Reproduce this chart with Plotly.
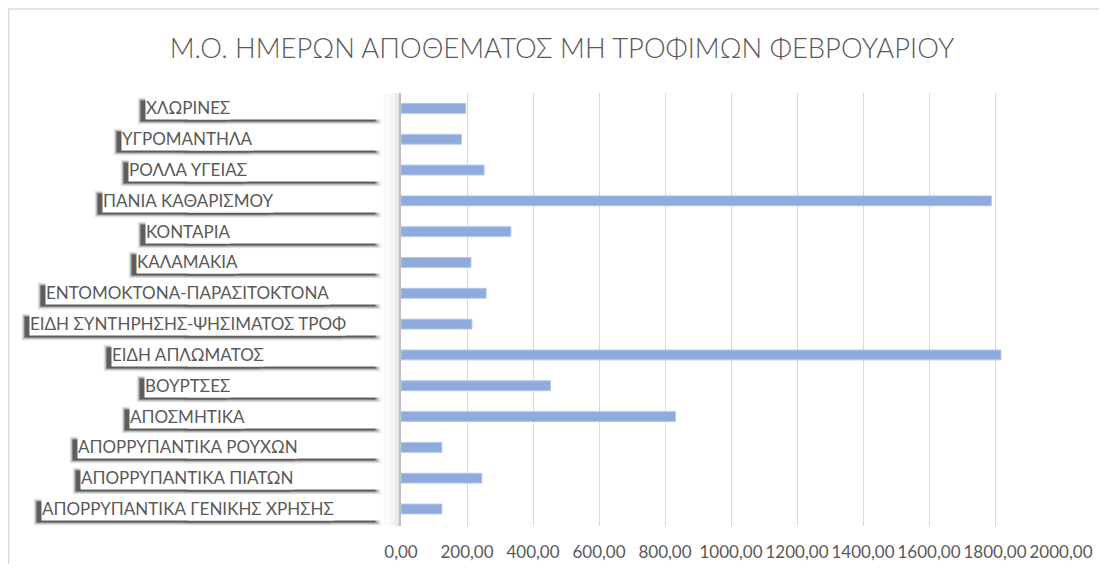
import plotly.graph_objects as go

# ---------------- data ----------------
categories = [
    "ΑΠΟΡΡΥΠΑΝΤΙΚΑ ΓΕΝΙΚΗΣ ΧΡΗΣΗΣ",
    "ΑΠΟΡΡΥΠΑΝΤΙΚΑ ΠΙΑΤΩΝ",
    "ΑΠΟΡΡΥΠΑΝΤΙΚΑ ΡΟΥΧΩΝ",
    "ΑΠΟΣΜΗΤΙΚΑ",
    "ΒΟΥΡΤΣΕΣ",
    "ΕΙΔΗ ΑΠΛΩΜΑΤΟΣ",
    "ΕΙΔΗ ΣΥΝΤΗΡΗΣΗΣ-ΨΗΣΙΜΑΤΟΣ ΤΡΟΦ",
    "ΕΝΤΟΜΟΚΤΟΝΑ-ΠΑΡΑΣΙΤΟΚΤΟΝΑ",
    "ΚΑΛΑΜΑΚΙΑ",
    "ΚΟΝΤΑΡΙΑ",
    "ΠΑΝΙΑ ΚΑΘΑΡΙΣΜΟΥ",
    "ΡΟΛΛΑ ΥΓΕΙΑΣ",
    "ΥΓΡΟΜΑΝΤΗΛΑ",
    "ΧΛΩΡΙΝΕΣ",
]
values = [124, 245, 124, 832, 453, 1818, 215, 258, 212, 333, 1789, 252, 183, 196]
x_ticks = [0, 200, 400, 600, 800, 1000, 1200, 1400, 1600, 1800, 2000]
title_text = "Μ.Ο. ΗΜΕΡΩΝ ΑΠΟΘΕΜΑΤΟΣ ΜΗ ΤΡΟΦΙΜΩΝ ΦΕΒΡΟΥΑΡΙΟΥ"

# ---------------- layout geometry ----------------
# the page body has an 8px margin, so the figure is placed at (8, 8)
OFF = 8
W, H = 1091, 556
ML, MR, MT, MB = 393, 38, 85, 38
PW = W - ML - MR
PH = H - MT - MB


def px2paper_x(page_px):
    return (page_px - OFF - ML) / PW


def px2paper_y(page_px):
    return (H - MB - (page_px - OFF)) / PH


FONT = "Lato, 'Open Sans', sans-serif"
GRAY = "#595959"
LBL = 17

fig = go.Figure()
fig.add_trace(go.Bar(
    x=values, y=categories, orientation="h",
    marker=dict(color="#8FAADC", line=dict(color="#B4C7E7", width=1)),
    hoverinfo="x+y",
))

# ---------------- label boxes with drop shadow ----------------
c_px = 188          # label text centre (page px)
box_right = 380     # right edge of white box (page px)
xc = px2paper_x(c_px)
annotations = []
# opaque greys (outer -> core) give a soft blur without alpha build-up
shadow_layers = [(3, "#EFEFEF"), (2, "#D4D4D4"), (1, "#A6A6A6"), (0, "#5E5E5E")]
for cat in categories:
    for pad, col in shadow_layers:
        annotations.append(dict(
            x=xc, y=cat, xref="paper", yref="y", xanchor="center", yanchor="middle",
            text=cat, showarrow=False, font=dict(family=FONT, size=LBL, color="rgba(0,0,0,0)"),
            bgcolor=col, borderpad=pad, height=20, xshift=-5, yshift=-3,
        ))
        annotations.append(dict(
            x=xc, y=cat, xref="paper", yref="y", xanchor="left", yanchor="middle",
            text="\u00a0", showarrow=False, font=dict(family=FONT, size=LBL, color="rgba(0,0,0,0)"),
            bgcolor=col, borderpad=pad, width=box_right - 1 - c_px, height=20, xshift=-5, yshift=-3,
        ))
for cat in categories:
    annotations.append(dict(
        x=xc, y=cat, xref="paper", yref="y", xanchor="left", yanchor="middle",
        text="\u00a0", showarrow=False, font=dict(family=FONT, size=LBL, color="rgba(0,0,0,0)"),
        bgcolor="white", borderpad=0, width=box_right - c_px, height=24, yshift=1,
    ))
    annotations.append(dict(
        x=xc, y=cat, xref="paper", yref="y", xanchor="center", yanchor="middle",
        text=cat, showarrow=False, font=dict(family=FONT, size=LBL, color=GRAY),
        bgcolor="white", borderpad=0, height=24, yshift=1,
    ))

shapes = [
    # outer chart border (cut off at right / bottom)
    dict(type="rect", xref="paper", yref="paper",
         x0=px2paper_x(8.5), x1=px2paper_x(1130), y0=px2paper_y(600), y1=px2paper_y(9),
         line=dict(color="#D9D9D9", width=1.5), fillcolor="rgba(0,0,0,0)", layer="below"),
]
# soft shadow band left of the vertical axis
for x0, a in [(384, 0.02), (390, 0.025), (395, 0.03), (398, 0.04)]:
    shapes.append(dict(type="rect", xref="paper", yref="paper",
                       x0=px2paper_x(x0), x1=0, y0=0, y1=1,
                       line=dict(width=0), fillcolor=f"rgba(0,0,0,{a})", layer="below"))

fig.update_layout(
    width=W, height=H,
    margin=dict(l=ML, r=MR, t=MT, b=MB, pad=0, autoexpand=False),
    paper_bgcolor="white", plot_bgcolor="white",
    separators=",.",
    bargap=0.68,
    showlegend=False,
    title=dict(text=title_text, x=(562 - OFF) / W, xref="container", xanchor="center",
               y=1 - (48 - OFF) / H, yref="container", yanchor="middle",
               font=dict(family=FONT, size=27.4, color=GRAY, weight=300)),
    xaxis=dict(range=[0, 2000], tickvals=x_ticks, tickformat=".2f",
               showgrid=True, gridcolor="#D9D9D9", gridwidth=1,
               zeroline=False, showline=False, ticks="", tickangle=0,
               tickfont=dict(family=FONT, size=17, color=GRAY),
               ticklabelstandoff=14, automargin=False, fixedrange=True),
    yaxis=dict(categoryorder="array", categoryarray=categories,
               showticklabels=False, showgrid=False, zeroline=False,
               showline=True, linecolor="#BFBFBF", linewidth=1.5, ticks="",
               automargin=False, fixedrange=True),
    annotations=annotations,
    shapes=shapes,
)

fig.write_html("out.html")
